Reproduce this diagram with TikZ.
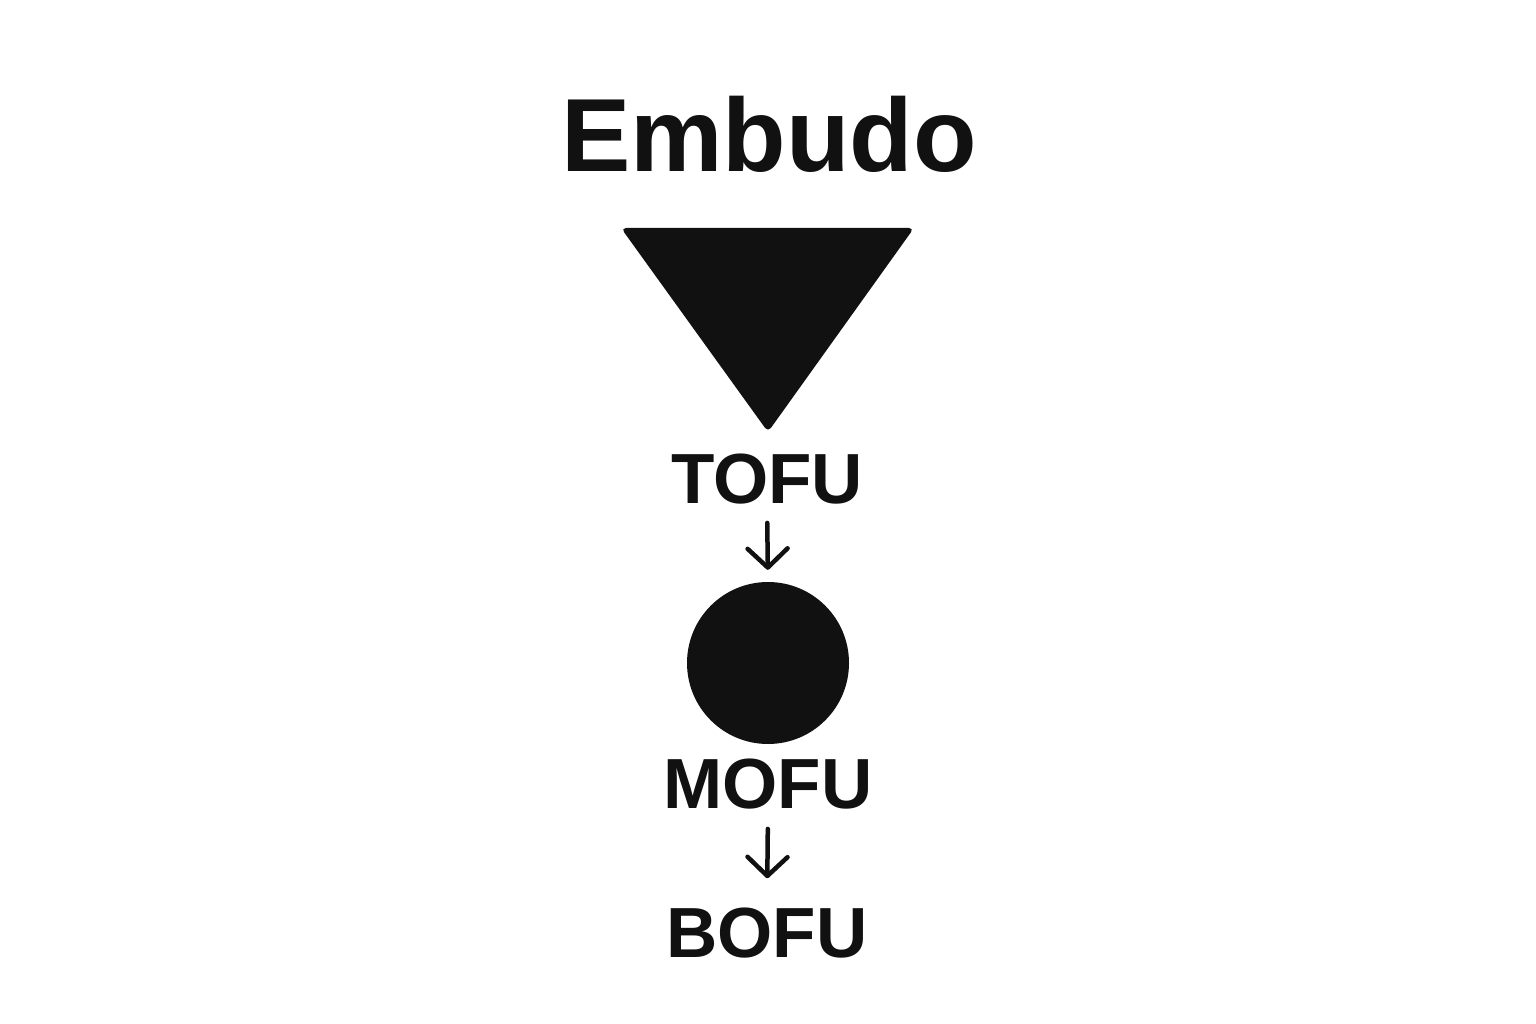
\documentclass[tikz,border=0pt]{standalone}
\usepackage{fontspec}
\setmainfont{Liberation Sans}
\usetikzlibrary{arrows.meta}
\definecolor{ink}{HTML}{111111}
\tikzset{
  lbl/.style={inner sep=0pt, anchor=base, font=\bfseries\fontsize{71}{71}\selectfont, text=ink},
  arr/.style={line width=4.5pt, draw=ink, line cap=round,
    -{Straight Barb[length=19pt,width=40pt,line width=4.5pt,round]}}
}
\begin{document}
\begin{tikzpicture}[x=1pt,y=-1pt]
\useasboundingbox (0,0) rectangle (1536,1024);
\fill[white] (0,0) rectangle (1536,1024);
\node[inner sep=0pt, anchor=base, font=\bfseries\fontsize{104}{104}\selectfont, text=ink] (title) at (769,172) {Embudo};
\coordinate (tl) at (621,228);
\coordinate (tr) at (914,228);
\coordinate (ap) at (768,432);
\fill[ink, rounded corners=5pt] (tl) -- (tr) -- (ap) -- cycle;
\node[lbl] (tofu) at (767,503) {TOFU};
\node[circle, fill=ink, inner sep=0pt, minimum size=162pt] (circ) at (768,663) {};
\node[lbl] (mofu) at (768,808) {MOFU};
\node[lbl] (bofu) at (767,957) {BOFU};
\draw[arr, shorten <=19pt, shorten >=12pt] (tofu.south) -- (circ.north);
\draw[arr, shorten <=20pt, shorten >=29pt] (mofu.south) -- (bofu.north);
\end{tikzpicture}
\end{document}
